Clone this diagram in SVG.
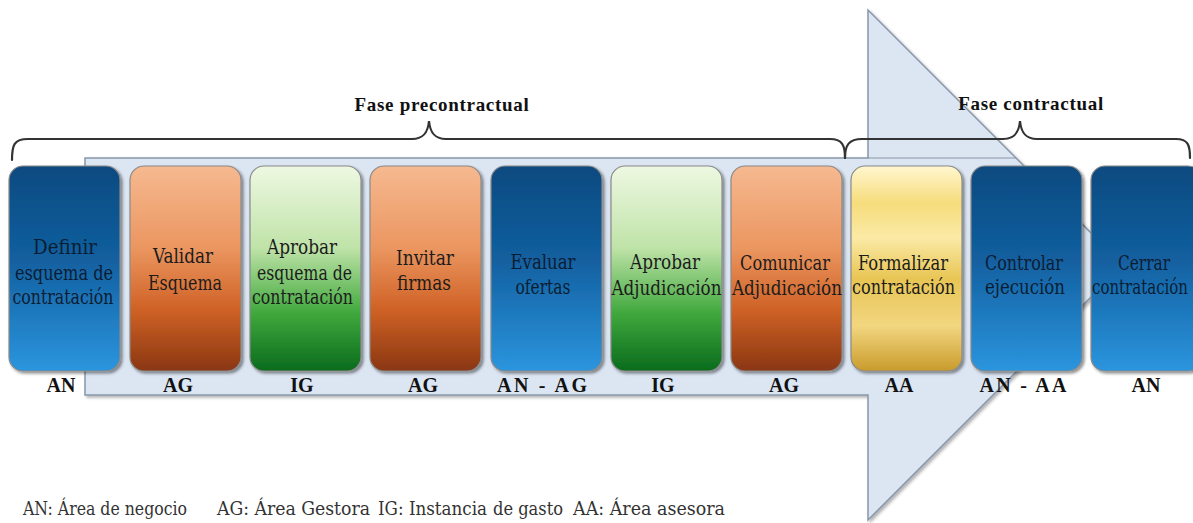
<svg xmlns="http://www.w3.org/2000/svg" width="1193" height="523" viewBox="0 0 1193 523">
<defs>
<linearGradient id="gBlue" x1="0" y1="0" x2="0" y2="1">
<stop offset="0" stop-color="#0c4a80"/>
<stop offset="0.45" stop-color="#125f9f"/>
<stop offset="1" stop-color="#2b95de"/>
</linearGradient>
<linearGradient id="gOrange" x1="0" y1="0" x2="0" y2="1">
<stop offset="0" stop-color="#f6b990"/>
<stop offset="0.4" stop-color="#eb9660"/>
<stop offset="0.7" stop-color="#cf6226"/>
<stop offset="1" stop-color="#8a3612"/>
</linearGradient>
<linearGradient id="gGreen" x1="0" y1="0" x2="0" y2="1">
<stop offset="0" stop-color="#eef8e2"/>
<stop offset="0.4" stop-color="#bfe3a8"/>
<stop offset="0.72" stop-color="#3fa83c"/>
<stop offset="1" stop-color="#0a6b1d"/>
</linearGradient>
<linearGradient id="gYellow" x1="0" y1="0" x2="0" y2="1">
<stop offset="0" stop-color="#fff7cf"/>
<stop offset="0.18" stop-color="#f6dc7c"/>
<stop offset="0.35" stop-color="#fbeaa6"/>
<stop offset="0.55" stop-color="#e8c554"/>
<stop offset="0.78" stop-color="#f2d680"/>
<stop offset="1" stop-color="#c99b2c"/>
</linearGradient>
<filter id="sh" x="-10%" y="-10%" width="125%" height="125%">
<feDropShadow dx="2" dy="2" stdDeviation="1.5" flood-color="#000" flood-opacity="0.45"/>
</filter>
<filter id="ash" x="-5%" y="-5%" width="110%" height="110%">
<feDropShadow dx="2" dy="2" stdDeviation="1.5" flood-color="#000" flood-opacity="0.3"/>
</filter>
</defs>
<style>
.box{stroke:#8a8a8a;stroke-width:1.2;filter:url(#sh)}
.blue{fill:url(#gBlue)}
.orange{fill:url(#gOrange)}
.green{fill:url(#gGreen)}
.yellow{fill:url(#gYellow)}
.t,.leg{font-family:"DejaVu Serif Condensed","DejaVu Serif",serif}
.lab,.hdr{font-family:"Liberation Serif","DejaVu Serif",serif}
.t{font-size:19.5px;fill:#1c1c1c;text-anchor:middle;font-stretch:condensed}
.tb{fill:#0b1d33}
.lab{font-size:20px;font-weight:bold;fill:#111;text-anchor:middle}
.hdr{font-size:19px;font-weight:bold;fill:#111;text-anchor:middle;letter-spacing:0.7px}
.leg{font-size:18px;fill:#333;font-stretch:condensed}
.brace{fill:none;stroke:#333;stroke-width:2.2;stroke-linecap:round}
</style>
<rect width="1193" height="523" fill="#fff"/>
<g id="connectors">
<polygon points="85,158 868,158 868,10 1123,265 868,520 868,395 85,395" fill="#dce6f3" stroke="#8796aa" stroke-width="1.5" filter="url(#ash)"/>
<line x1="868" y1="158" x2="1016" y2="158" stroke="#8796aa" stroke-width="1.2"/>
</g>
<g id="braces">
<path class="brace" d="M12,160 C12,145 14,139 28,139 L412,139 C424,139 428,132 429,121 C430,132 434,139 446,139 L830,139 C842,139 845,145 845,158"/>
<path class="brace" d="M845,158 C845,145 849,139 862,139 L1003,139 C1015,139 1019,132 1020,121 C1021,132 1025,139 1037,139 L1176,139 C1188,139 1190,145 1190,158"/>
<text class="hdr" x="442" y="111">Fase precontractual</text>
<text class="hdr" x="1031" y="110">Fase contractual</text>
</g>
<g id="n1"><rect class="box blue" x="9" y="166" width="111" height="205" rx="14"/>
<text class="t tb" x="65" y="254" textLength="64" lengthAdjust="spacingAndGlyphs">Definir</text><text class="t tb" x="64" y="280" textLength="98" lengthAdjust="spacingAndGlyphs">esquema de</text><text class="t tb" x="63" y="304" textLength="101" lengthAdjust="spacingAndGlyphs">contratación</text>
<text class="lab" x="61" y="392">AN</text></g>
<g id="n2"><rect class="box orange" x="130" y="166" width="111" height="205" rx="14"/>
<text class="t" x="183" y="263" textLength="60" lengthAdjust="spacingAndGlyphs">Validar</text><text class="t" x="185" y="290" textLength="74" lengthAdjust="spacingAndGlyphs">Esquema</text>
<text class="lab" x="178" y="392">AG</text></g>
<g id="n3"><rect class="box green" x="250" y="166" width="111" height="205" rx="14"/>
<text class="t" x="302" y="254" textLength="70" lengthAdjust="spacingAndGlyphs">Aprobar</text><text class="t" x="304.5" y="280" textLength="95" lengthAdjust="spacingAndGlyphs">esquema de</text><text class="t" x="302.5" y="304" textLength="101" lengthAdjust="spacingAndGlyphs">contratación</text>
<text class="lab" x="302" y="392">IG</text></g>
<g id="n4"><rect class="box orange" x="370" y="166" width="111" height="205" rx="14"/>
<text class="t" x="425" y="265" textLength="58" lengthAdjust="spacingAndGlyphs">Invitar</text><text class="t" x="424" y="290" textLength="54" lengthAdjust="spacingAndGlyphs">firmas</text>
<text class="lab" x="423" y="392">AG</text></g>
<g id="n5"><rect class="box blue" x="491" y="166" width="111" height="205" rx="14"/>
<text class="t tb" x="543" y="269" textLength="65" lengthAdjust="spacingAndGlyphs">Evaluar</text><text class="t tb" x="543" y="294" textLength="55" lengthAdjust="spacingAndGlyphs">ofertas</text>
<text class="lab" x="542" y="392" textLength="90" lengthAdjust="spacing">AN - AG</text></g>
<g id="n6"><rect class="box green" x="611" y="166" width="111" height="205" rx="14"/>
<text class="t" x="665" y="269" textLength="70" lengthAdjust="spacingAndGlyphs">Aprobar</text><text class="t" x="666.5" y="295" textLength="110" lengthAdjust="spacingAndGlyphs">Adjudicación</text>
<text class="lab" x="663" y="392">IG</text></g>
<g id="n7"><rect class="box orange" x="731" y="166" width="111" height="205" rx="14"/>
<text class="t" x="785" y="270" textLength="90" lengthAdjust="spacingAndGlyphs">Comunicar</text><text class="t" x="787" y="295" textLength="110" lengthAdjust="spacingAndGlyphs">Adjudicación</text>
<text class="lab" x="784" y="392">AG</text></g>
<g id="n8"><rect class="box yellow" x="851" y="166" width="111" height="205" rx="14"/>
<text class="t" x="903" y="270" textLength="90" lengthAdjust="spacingAndGlyphs">Formalizar</text><text class="t" x="903.5" y="294" textLength="103" lengthAdjust="spacingAndGlyphs">contratación</text>
<text class="lab" x="899" y="392">AA</text></g>
<g id="n9"><rect class="box blue" x="971" y="166" width="111" height="205" rx="14"/>
<text class="t tb" x="1024" y="270" textLength="78" lengthAdjust="spacingAndGlyphs">Controlar</text><text class="t tb" x="1025" y="294" textLength="80" lengthAdjust="spacingAndGlyphs">ejecución</text>
<text class="lab" x="1023" y="392" textLength="87" lengthAdjust="spacing">AN - AA</text></g>
<g id="n10"><rect class="box blue" x="1091" y="166" width="111" height="205" rx="14"/>
<text class="t tb" x="1144" y="270" textLength="52" lengthAdjust="spacingAndGlyphs">Cerrar</text><text class="t tb" x="1140" y="294" font-size="17" textLength="96" lengthAdjust="spacingAndGlyphs">contratación</text>
<text class="lab" x="1146" y="392">AN</text></g>
<g id="legend">
<text class="leg" x="23" y="515" textLength="164" lengthAdjust="spacingAndGlyphs">AN: Área de negocio</text>
<text class="leg" x="217" y="515" textLength="153" lengthAdjust="spacingAndGlyphs">AG: Área Gestora</text>
<text class="leg" x="378" y="515" textLength="109" lengthAdjust="spacingAndGlyphs">IG: Instancia</text>
<text class="leg" x="493" y="515" textLength="70" lengthAdjust="spacingAndGlyphs">de gasto</text>
<text class="leg" x="573" y="515" textLength="152" lengthAdjust="spacingAndGlyphs">AA: Área asesora</text>
</g>
</svg>
